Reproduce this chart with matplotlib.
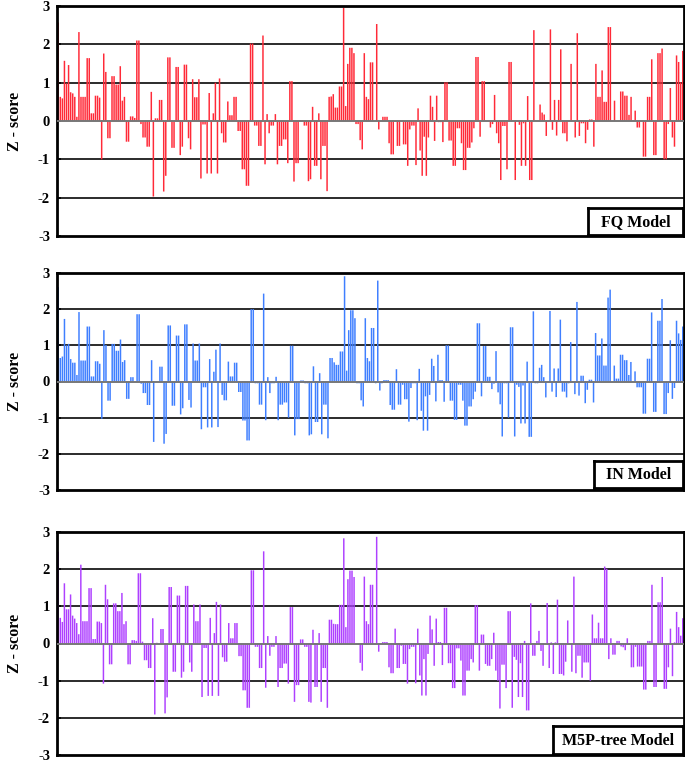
import matplotlib
matplotlib.use("Agg")
import matplotlib.pyplot as plt
import numpy as np

# ---------------- data ----------------
fq_a = [2.57, 0.63, 0.59, 1.57, 0.98, 1.46, 0.75, 0.72, 0.63, 0.11, 2.32, 0.63, 0.63, 0.63, 1.64, 1.64, 0.2, 0.2, 0.66, 0.66, 0.61, -1.0, 1.76, 1.28, -0.45, -0.45, 1.17, 1.17, 0.95, 0.95, 1.43, 0.53, 0.63, -0.54, -0.54, 0.12, 0.12, 0.08, 2.1, 2.1, -0.08, -0.43, -0.43, -0.67, -0.67, 0.76, -1.97, 0.07, 0.07, 0.55, 0.55, -1.84, -1.43, 1.66, 1.66, -0.7, -0.7, 1.41, 1.41, -0.89, -0.67, 1.47, 1.47, -0.45, -0.74, 1.09, 0.62, 0.62, 1.09, -1.5, -0.09, -0.09, -1.37, 0.73, -1.37, 0.2]
fq_b = [1.0, -1.37, 1.11, -0.32, -0.56, -0.56, 0.51, 0.15, 0.15, 0.63, 0.63, -0.26, -0.26, -1.26, -1.26, -1.69, -1.69, 2.02, 2.02, -0.12, -0.12, -0.65, -0.65, 2.23, -1.13, 0.18, -0.32, -0.12, -0.12, 0.18, -1.13, -0.65, -0.65, -0.48, -0.48, -1.1, 1.04, 1.04, -1.58, -1.1, -1.1, 0.02, 0.02, -0.12, -0.12, -1.57, -1.52, 0.37, -1.17, -1.17, 0.2, -1.52, -0.65, -0.65, -1.83, 0.63, 0.64, 0.7, 0.35, 0.35, 0.9, 0.9, 2.95, 0.39, 1.49, 1.91, 1.91, 1.77, -0.08, -0.08, -0.5, -0.74, 1.77, 0.63, 0.57]
fq_c = [1.53, 1.53, 0.0, 2.53, -0.22, 0.0, 0.11, 0.11, 0.11, -0.58, -0.87, -0.87, 0.0, -0.65, -0.65, 0.0, -0.61, -0.61, -1.17, -0.22, -0.12, -0.12, -1.15, 0.33, -0.77, -1.43, -0.41, -1.43, -0.43, 0.66, 0.37, -0.52, 0.66, -0.03, -0.03, -0.55, 1.01, 1.01, -0.51, -0.51, -1.17, -1.17, -0.19, -0.19, -0.58, -1.28, -1.28, -0.7, -0.7, -0.56, -0.19, 1.67, 1.67, -0.41, 1.04, 1.04, 0.0, 0.0, -0.17, -0.08, 0.68, -0.32, -0.58, -1.54, -0.13, -0.13, -1.26, 1.54, 1.54, 0.0, -1.54, 0.0, -0.1, -1.17, -0.06]
fq_d = [-1.17, 0.65, -1.54, -1.54, 2.37, 0.0, 0.0, 0.43, 0.22, 0.17, -0.39, 0.0, 2.39, -0.23, 0.55, -0.38, 0.55, 1.87, -0.32, -0.32, -0.53, 0.0, 1.49, 0.0, -0.43, 2.29, -0.39, -0.06, -0.06, -0.58, -0.23, 0.04, 0.04, -0.67, 1.49, 0.63, 0.63, 1.32, 0.5, 0.5, 2.45, 2.45, 0.0, 0.53, 0.0, 0.0, 0.77, 0.77, 0.66, 0.66, 0.16, 0.63, 0.0, 0.27, -0.17, -0.17, 0.0, -0.93, -0.93, 0.63, 0.63, 1.61, -0.89, -0.89, 1.77, 1.77, 1.89, -1.0, -1.0, -0.08, 0.86, -0.43, -0.67, 1.71, 1.54, 1.01, 1.83]

in_a = [2.61, 0.65, 0.69, 1.73, 1.0, 1.04, 0.62, 0.52, 0.52, 0.18, 1.92, 0.58, 0.58, 0.58, 1.52, 1.52, 0.14, 0.14, 0.56, 0.56, 0.49, -1.03, 1.42, 1.01, -0.53, -0.53, 1.04, 1.04, 0.85, 0.85, 1.16, 0.54, 0.59, -0.48, -0.48, 0.12, 0.12, 0.0, 1.86, 1.86, -0.06, -0.32, -0.32, -0.65, -0.65, 0.59, -1.67, 0.0, 0.0, 0.41, 0.41, -1.72, -1.45, 1.55, 1.55, -0.67, -0.67, 1.27, 1.27, -0.91, -0.74, 1.58, 1.58, -0.51, -0.72, 1.05, 0.58, 0.58, 1.05, -1.32, -0.16, -0.16, -1.27, 0.62, -1.27, 0.27]
in_b = [0.88, -1.26, 1.05, -0.37, -0.52, -0.52, 0.55, 0.14, 0.14, 0.52, 0.52, -0.29, -0.29, -1.08, -1.08, -1.63, -1.63, 2.0, 2.0, -0.05, -0.05, -0.64, -0.64, 2.43, -1.07, 0.12, -0.32, -0.05, -0.05, 0.13, -1.07, -0.64, -0.64, -0.58, -0.58, -1.0, 0.99, 0.99, -1.49, -1.04, -1.04, 0.03, 0.03, -0.05, -0.05, -1.49, -1.46, 0.42, -1.12, -1.12, 0.23, -1.46, -0.64, -0.64, -1.57, 0.65, 0.65, 0.53, 0.46, 0.46, 0.83, 0.83, 2.91, 0.3, 1.42, 1.97, 1.97, 1.75, -0.05, -0.05, -0.52, -0.69, 1.75, 0.65, 0.56]
in_c = [1.48, 1.48, -0.05, 2.79, -0.25, -0.05, 0.04, 0.04, 0.04, -0.65, -0.78, -0.78, 0.34, -0.64, -0.64, -0.09, -0.49, -0.49, -1.11, -0.18, -0.05, -0.05, -1.07, 0.35, -0.81, -1.36, -0.41, -1.36, -0.37, 0.63, 0.43, -0.55, 0.74, 0.04, 0.04, -0.56, 1.0, 1.0, -0.53, -0.53, -1.06, -1.06, -0.09, -0.09, -0.53, -1.22, -1.22, -0.69, -0.69, -0.49, -0.28, 1.61, 1.61, -0.41, 0.98, 0.98, 0.13, 0.13, -0.21, -0.06, 0.84, -0.3, -0.63, -1.52, -0.05, -0.05, -1.0, 1.5, 1.5, -1.52, -0.09, -0.15, -1.16, -0.11]
in_d = [-1.16, 0.55, -1.53, -1.53, 1.94, -0.05, -0.05, 0.38, 0.46, 0.12, -0.44, 0.0, 1.95, -0.28, 0.36, -0.43, 0.36, 1.71, -0.28, -0.28, -0.44, -0.05, 1.09, 0.0, -0.35, 2.2, -0.39, 0.16, 0.16, -0.6, -0.23, 0.05, 0.05, -0.58, 1.34, 0.72, 0.72, 1.19, 0.44, 0.44, 2.32, 2.54, 0.0, 0.44, 0.08, 0.08, 0.74, 0.74, 0.59, 0.59, 0.18, 0.54, 0.0, 0.28, -0.16, -0.16, -0.16, -0.89, -0.89, 0.63, 0.63, 1.91, -0.84, -0.84, 1.68, 1.68, 2.28, -0.9, -0.9, -0.32, 1.14, -0.48, -0.18, 1.68, 1.33, 1.15, 1.52]

m5p_a = [2.47, 0.69, 0.58, 1.62, 0.92, 0.92, 1.32, 0.75, 0.67, 0.55, 0.25, 2.12, 0.6, 0.6, 0.6, 1.49, 1.49, 0.12, 0.12, 0.59, 0.59, 0.55, -1.08, 1.58, 1.19, -0.56, -0.56, 1.08, 1.08, 0.87, 0.87, 1.36, 0.52, 0.6, -0.56, -0.56, 0.09, 0.09, 0.07, 1.89, 1.89, 0.05, -0.45, -0.45, -0.66, -0.66, 0.68, -1.91, 0.02, 0.0, 0.39, 0.39, -1.88, -1.45, 1.52, 1.52, -0.76, -0.76, 1.29, 1.29, -0.92, -0.76, 1.55, 1.55, -0.51, -0.76, 1.05, 0.6, 0.6, 1.05, -1.44, -0.12, -0.12, -1.41, 0.69, -1.41, 0.28, 1.12]
m5p_b = [-1.41, 1.05, -0.37, -0.49, -0.49, 0.55, 0.14, 0.14, 0.55, 0.55, -0.34, -0.34, -1.26, -1.26, -1.73, -1.73, 1.97, 1.97, -0.09, -0.09, -0.66, -0.66, 2.48, -1.19, 0.2, -0.33, -0.09, -0.09, 0.2, -1.17, -0.66, -0.66, -0.54, -0.54, -1.08, 0.98, 0.98, -1.57, -1.12, -1.12, 0.11, 0.11, -0.09, -0.09, -1.57, -1.59, 0.37, -1.17, -1.17, 0.28, -1.57, -0.66, -0.66, -1.73, 0.64, 0.64, 0.53, 0.52, 0.52, 1.04, 1.04, 2.83, 0.44, 1.73, 1.96, 1.96, 1.79, -0.04, -0.04, -0.52, -0.73, 1.8, 0.6, 0.52]
m5p_c = [1.58, 1.58, 0.0, 2.87, -0.22, 0.0, 0.04, 0.04, 0.04, -0.64, -0.8, -0.8, 0.4, -0.66, -0.66, -0.06, -0.55, -0.55, -1.08, -0.15, -0.09, -0.09, -1.07, 0.4, -0.86, -1.4, -0.42, -1.4, -0.28, 0.75, 0.38, -0.6, 0.67, 0.04, 0.04, -0.58, 0.96, 0.96, -0.53, -0.53, -1.2, -1.2, -0.13, -0.13, -0.46, -1.4, -1.4, -0.73, -0.73, -0.42, -0.51, 1.03, 1.03, -0.73, 0.24, 0.24, -0.55, -0.6, -0.6, -0.42, 0.29, -0.73, -1.0, -1.75, -0.57, -0.57, -1.2, 0.87, 0.87, -1.73, -0.36, -0.44, -1.44, -0.53]
m5p_d = [-1.44, 0.07, -1.8, -1.8, 1.08, -0.33, -0.33, 0.07, 0.34, -0.2, -0.6, 0.0, 1.09, -0.66, 0.03, -0.82, 0.03, 1.18, -0.82, -0.82, -0.86, -0.49, 0.62, 0.0, -0.76, 1.8, -0.8, -0.33, -0.33, -0.92, -0.51, -0.51, -0.51, -1.0, 0.78, 0.14, 0.14, 0.56, 0.14, 0.14, 2.07, 2.01, -0.42, 0.14, -0.3, -0.3, 0.07, 0.07, -0.08, -0.1, -0.18, 0.14, 0.0, -0.64, -0.64, -0.09, -0.62, -0.62, -0.62, -1.24, -1.24, 0.07, 0.07, 1.58, -1.17, -1.17, 1.11, 1.11, 1.79, -1.22, -1.22, -0.64, 0.4, -0.88, 0.03, 0.85, 0.44, 0.21, 0.68]

fq_values = fq_a + fq_b + fq_c + fq_d
in_values = in_a + in_b + in_c + in_d
m5p_values = m5p_a + m5p_b + m5p_c + m5p_d

model_names = ["FQ Model", "IN Model", "M5P-tree Model"]
bar_colors = ["#FF2A38", "#3F7FFF", "#AE40FF"]
y_ticks = [-3, -2, -1, 0, 1, 2, 3]
y_label = "Z - score"

# ---------------- layout ----------------
W, H = 685, 763
fig = plt.figure(figsize=(W / 100, H / 100), dpi=100)
serif = ["Liberation Serif", "DejaVu Serif"]

# (top_px, bottom_px) of each panel, legend box (x0, y0, x1, y1) in px
panels = [(6, 236), (273, 490), (532, 755)]
boxes = [(588, 208, 683, 235), (594, 461, 683, 488), (553, 726, 683, 754)]
left_px, right_px = 57, 684

series = [fq_values, in_values, m5p_values]
for vals, name, col, (top, bot), box in zip(series, model_names, bar_colors, panels, boxes):
    ax = fig.add_axes([left_px / W, (H - bot) / H, (right_px - left_px) / W, (bot - top) / H])
    x = np.arange(len(vals))
    ax.bar(x, vals, width=0.72, color=col, linewidth=0, zorder=2, snap=False)
    ax.set_xlim(-0.6, len(vals) - 0.4)
    ax.set_ylim(-3, 3)
    for g in [-2, -1, 1, 2]:
        ax.axhline(g, color="#1a1a1a", lw=1.3, zorder=1)
    ax.axhline(0, color="#777777", lw=1.4, zorder=3)
    ax.set_xticks([])
    ax.set_yticks(y_ticks)
    ax.set_yticklabels([str(t) for t in y_ticks], fontfamily=serif, fontweight="bold", fontsize=10.5)
    ax.tick_params(axis="y", direction="in", length=3, width=1.2, pad=5)
    for s in ax.spines.values():
        s.set_linewidth(2)
        s.set_color("black")
    ax.set_ylabel(y_label, fontfamily=serif, fontweight="bold", fontsize=11.5, labelpad=11)
    # legend-like label box
    bx0, by0, bx1, by1 = box
    bax = fig.add_axes([bx0 / W, (H - by1) / H, (bx1 - bx0) / W, (by1 - by0) / H])
    bax.set_xticks([]); bax.set_yticks([])
    bax.set_facecolor("white")
    for s in bax.spines.values():
        s.set_linewidth(2)
        s.set_color("black")
    bax.text(0.5, 0.47, name, ha="center", va="center", fontfamily=serif,
             fontweight="bold", fontsize=11.5, transform=bax.transAxes)

fig.savefig("out.png", dpi=100)
